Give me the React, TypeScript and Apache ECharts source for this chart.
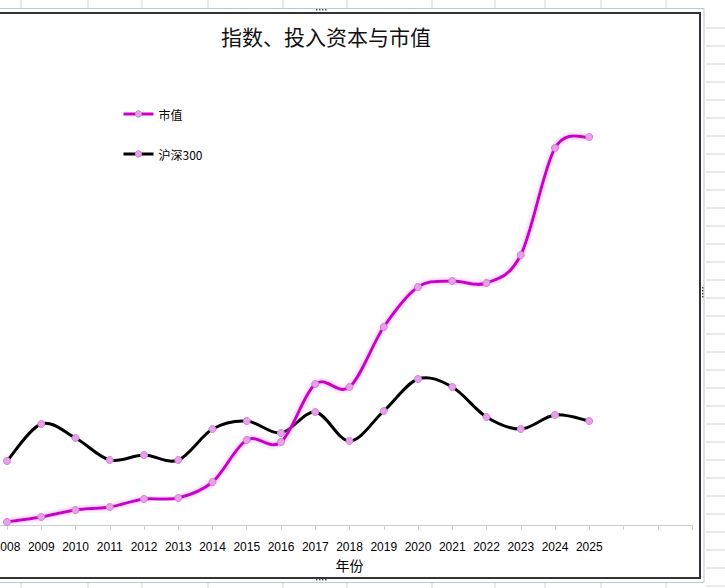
import React, { useEffect, useRef } from "react";
import * as echarts from "echarts";

const years = ["2008","2009","2010","2011","2012","2013","2014","2015","2016","2017","2018","2019","2020","2021","2022","2023","2024","2025","","",""];
const marketValue = [3, 8, 15, 18, 26, 27, 43, 85, 83, 141, 138, 198, 238, 244, 242, 270, 377, 388];
const csi300 = [64, 101, 87, 65, 70, 65, 96, 104, 92, 113, 84, 114, 146, 138, 108, 96, 110, 104];
const seriesNames = ["市值", "沪深300"];
const titleText = "指数、投入资本与市值";
const axisName = "年份";

const colX = [21, 88, 142, 208, 283, 347, 432, 495, 545, 601, 666];
const rowY = [28, 46, 64, 82, 100, 118, 136, 154, 172, 190, 208, 226, 244, 262, 280, 298, 316, 334, 352, 370, 388, 406, 424, 442, 460, 478, 496, 514, 532, 550, 568, 586];

const MAGENTA = "#c800c8";
const markerStyle = { color: "#e7a1e9", borderColor: "#d47fd8", borderWidth: 1 };

function curveSeries(name: string, values: number[], color: string, glow: boolean) {
  return {
    name,
    type: "custom",
    data: values.map((v, i) => [i, v]),
    z: glow ? 3 : 2,
    silent: true,
    renderItem: (params: any, api: any) => {
      const i = params.dataIndex;
      if (i >= values.length - 1) return null;
      const pt = (k: number) => {
        const kk = Math.max(0, Math.min(values.length - 1, k));
        return api.coord([kk, values[kk]]);
      };
      const p0 = pt(i - 1), p1 = pt(i), p2 = pt(i + 1), p3 = pt(i + 2);
      const t = 1 / 6;
      return {
        type: "bezierCurve",
        shape: {
          x1: p1[0], y1: p1[1], x2: p2[0], y2: p2[1],
          cpx1: p1[0] + (p2[0] - p0[0]) * t, cpy1: p1[1] + (p2[1] - p0[1]) * t,
          cpx2: p2[0] - (p3[0] - p1[0]) * t, cpy2: p2[1] - (p3[1] - p1[1]) * t,
        },
        style: glow
          ? { stroke: color, lineWidth: 3, fill: "none", lineCap: "round", shadowColor: "rgba(230,130,235,0.8)", shadowBlur: 4 }
          : { stroke: color, lineWidth: 3, fill: "none", lineCap: "round" },
      };
    },
  };
}

export default function App() {
  const ref = useRef<HTMLDivElement>(null);
  useEffect(() => {
    if (!ref.current) return;
    const chart = echarts.init(ref.current, null, { renderer: "svg" });
    const bg: any[] = [];
    colX.forEach((x) => {
      bg.push({ type: "line", shape: { x1: x, y1: 0, x2: x, y2: 8 }, style: { stroke: "#d4d4d4", lineWidth: 1 }, z: -10 });
      bg.push({ type: "line", shape: { x1: x, y1: 582, x2: x, y2: 588 }, style: { stroke: "#d4d4d4", lineWidth: 1 }, z: -10 });
    });
    rowY.forEach((y) => {
      bg.push({ type: "line", shape: { x1: 706, y1: y, x2: 725, y2: y }, style: { stroke: "#d4d4d4", lineWidth: 1 }, z: -10 });
    });
    bg.push({ type: "rect", shape: { x: -3, y: 8.5, width: 707, height: 574 }, style: { fill: "none", stroke: "#b9c9d6", lineWidth: 1 }, z: -5 });
    bg.push({ type: "rect", shape: { x: -3, y: 13, width: 703, height: 565 }, style: { fill: "none", stroke: "#333333", lineWidth: 2 }, z: -5 });
    bg.push({ type: "line", shape: { x1: 0, y1: 525.5, x2: 7, y2: 525.5 }, style: { stroke: "#d0d0d0", lineWidth: 1 }, z: -5 });
    [316, 319, 322, 325].forEach((x) => {
      bg.push({ type: "rect", shape: { x, y: 9, width: 1.5, height: 1.5 }, style: { fill: "#555" }, z: -4 });
      bg.push({ type: "rect", shape: { x, y: 579, width: 1.5, height: 1.5 }, style: { fill: "#555" }, z: -4 });
    });
    [287, 290, 293, 296].forEach((y) => {
      bg.push({ type: "rect", shape: { x: 702, y, width: 1.5, height: 1.5 }, style: { fill: "#555" }, z: -4 });
    });

    chart.setOption({
      animation: false,
      backgroundColor: "#ffffff",
      title: {
        text: titleText,
        left: 321,
        top: 20,
        textAlign: "center",
        textStyle: { fontFamily: "Noto Sans CJK SC", fontWeight: "normal", fontSize: 21, color: "#111" },
      },
      legend: {
        data: [
          { name: seriesNames[0], lineStyle: { color: MAGENTA, width: 3, opacity: 1 }, itemStyle: markerStyle },
          { name: seriesNames[1], lineStyle: { color: "#000000", width: 3, opacity: 1 }, itemStyle: markerStyle },
        ],
        orient: "vertical",
        left: 117,
        top: 103,
        itemGap: 28,
        itemWidth: 30,
        itemHeight: 8,
        textStyle: { fontFamily: "Noto Sans CJK SC", fontSize: 12, color: "#000" },
      },
      grid: { left: 7, right: 33, top: 25, bottom: 63, containLabel: false, outerBoundsMode: "none" },
      xAxis: {
        type: "category",
        data: years,
        boundaryGap: false,
        name: axisName,
        nameLocation: "middle",
        nameGap: 33,
        nameTextStyle: { fontFamily: "Noto Sans CJK SC", fontSize: 14, color: "#000" },
        axisLine: { lineStyle: { color: "#d0d0d0", width: 1 } },
        axisTick: { show: true, length: 5, lineStyle: { color: "#d0d0d0" } },
        axisLabel: { interval: 0, margin: 16, fontFamily: "Liberation Sans", fontSize: 12, color: "#000" },
        splitLine: { show: false },
      },
      yAxis: { type: "value", min: 0, max: 500, show: false, splitLine: { show: false } },
      series: [
        curveSeries("沪深300曲线", csi300, "#000000", false),
        curveSeries("市值曲线", marketValue, MAGENTA, true),
        {
          name: seriesNames[1],
          type: "line",
          data: csi300,
          symbol: "circle",
          symbolSize: 7,
          lineStyle: { color: "#000000", width: 3, opacity: 0 },
          itemStyle: markerStyle,
          z: 4,
        },
        {
          name: seriesNames[0],
          type: "line",
          data: marketValue,
          symbol: "circle",
          symbolSize: 7,
          lineStyle: { color: MAGENTA, width: 3, opacity: 0 },
          itemStyle: markerStyle,
          z: 5,
        },
      ],
      graphic: bg,
    });
    return () => chart.dispose();
  }, []);
  return (
    <div
      ref={ref}
      style={{ position: "fixed", left: 0, top: 0, width: 725, height: 588, background: "#fff" }}
    />
  );
}
